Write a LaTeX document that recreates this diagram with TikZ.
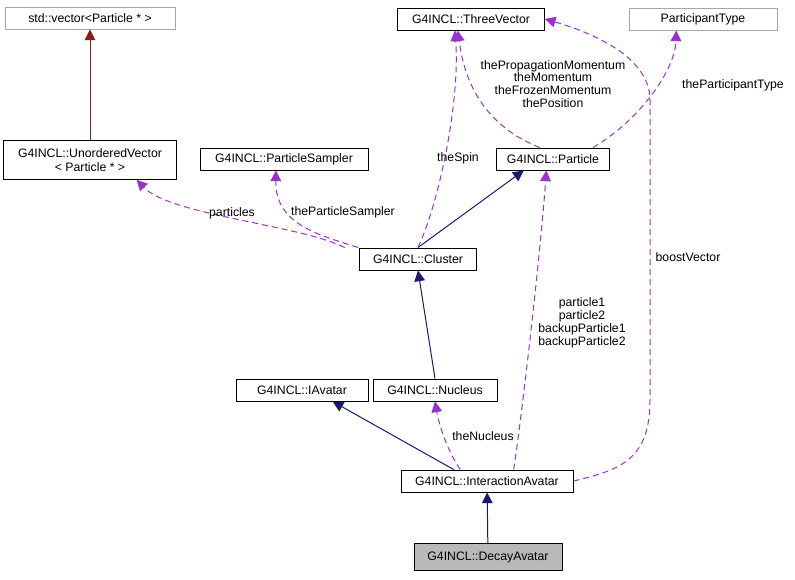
\documentclass[tikz,border=0pt]{standalone}
\usepackage{fontspec}
\setmainfont{Liberation Sans}
\usetikzlibrary{arrows.meta}
\begin{document}
\begin{tikzpicture}[x=0.75pt,y=-0.75pt,line width=0.75pt,
  box/.style={draw=black,fill=white,inner sep=0pt,minimum height=16.5pt,align=center,font=\fontsize{9.2}{10.4}\selectfont},
  gbox/.style={box,draw=gray!70},
  inh/.style={draw=navy,-{Triangle[open,fill=navy,length=8pt,width=8pt]}},
  use/.style={draw=dpurple,dashed,dash pattern=on 4.5pt off 3pt,-{Triangle[open,fill=dpurple,length=8pt,width=8pt]}},
  lab/.style={font=\fontsize{9.2}{9.6}\selectfont,align=center,inner sep=1pt}]
\definecolor{navy}{RGB}{25,25,112}
\definecolor{dpurple}{RGB}{153,50,204}
\definecolor{dred}{RGB}{139,26,26}
\useasboundingbox (0,0) rectangle (795,579);
\node[gbox,minimum width=127.5pt] (vec) at (90,18) {std::vector<Particle * >};
\node[box,minimum width=110pt] (tv) at (471,19) {G4INCL::ThreeVector};
\node[gbox,minimum width=111pt] (pt) at (703,19) {ParticipantType};
\node[box,minimum width=130pt,minimum height=29pt] (uv) at (90,160) {G4INCL::UnorderedVector\\< Particle * >};
\node[box,minimum width=126pt] (ps) at (284,159) {G4INCL::ParticleSampler};
\node[box,minimum width=85pt] (pa) at (553,159) {G4INCL::Particle};
\node[box,minimum width=88pt] (cl) at (418,259) {G4INCL::Cluster};
\node[box,minimum width=99pt] (ia) at (302,390) {G4INCL::IAvatar};
\node[box,minimum width=93pt] (nu) at (435,390) {G4INCL::Nucleus};
\node[box,minimum width=129pt] (iav) at (487,481) {G4INCL::InteractionAvatar};
\node[box,minimum width=111pt,minimum height=20pt,fill=gray!55] (da) at (488,557) {G4INCL::DecayAvatar};
% inheritance
\draw[draw=dred,-{Triangle[open,fill=dred,length=8pt,width=8pt]}] (uv) -- (vec);
\draw[inh] (cl.north) -- ([xshift=-22]pa.south);
\draw[inh] (nu.north) -- (cl.south);
\draw[inh] ([xshift=-25]iav.north) -- ([xshift=23]ia.south);
\draw[inh] (da) -- (iav);
% usage
\draw[use] ([xshift=-55]cl.north) .. controls (300,225) and (170,215) .. ([xshift=35]uv.south);
\node[lab] at (232,213) {particles};
\draw[use] ([xshift=-45]cl.north) .. controls (320,235) and (275,225) .. ([xshift=-6]ps.south);
\node[lab] at (343,212) {theParticleSampler};
\draw[use] (cl.north) .. controls (440,200) and (460,100) .. ([xshift=-12]tv.south);
\node[lab] at (458,158) {theSpin};
\draw[use] ([xshift=-10]pa.north) .. controls (470,120) and (462,60) .. ([xshift=-10]tv.south);
\node[lab] at (553,84) {thePropagationMomentum\\theMomentum\\theFrozenMomentum\\thePosition};
\draw[use] ([xshift=30]pa.north) .. controls (640,120) and (675,70) .. ([xshift=-20]pt.south);
\node[lab] at (733,85) {theParticipantType};
\draw[use] ([xshift=20]iav.north) .. controls (520,430) and (540,260) .. ([xshift=-5]pa.south);
\node[lab] at (582,323) {particle1\\particle2\\backupParticle1\\backupParticle2};
\draw[use] ([xshift=-20]iav.north) .. controls (450,455) and (440,430) .. (nu.south);
\node[lab] at (483,436) {theNucleus};
\draw[use] (iav.east) .. controls (620,470) and (650,460) .. (650,400) -- (650,100) .. controls (650,60) and (600,35) .. (tv.east);
\node[lab] at (688,257) {boostVector};
\end{tikzpicture}
\end{document}
